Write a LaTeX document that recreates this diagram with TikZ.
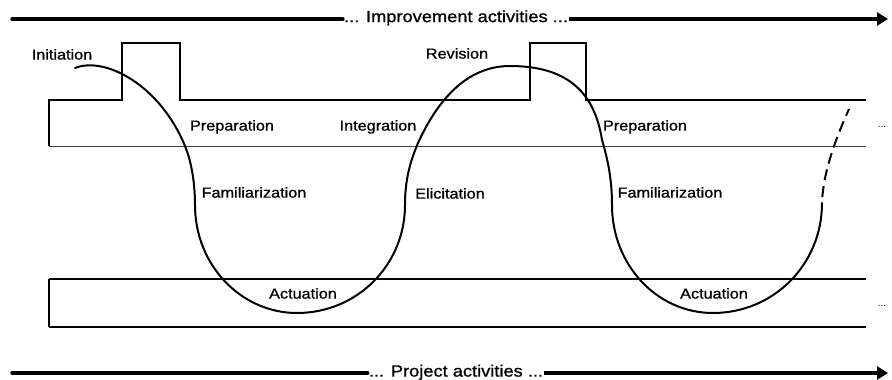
\documentclass[tikz,border=0pt]{standalone}
\usepackage{fontspec}
\setmainfont{Liberation Sans}
\newfontfamily\labfont[FakeStretch=1.12,FakeBold=1]{Liberation Sans}
\usetikzlibrary{arrows.meta}
\tikzset{
  lab/.style={font=\labfont\fontsize{14.5pt}{16pt}\selectfont, inner sep=0pt, text height=0.72em, text depth=0pt},
  big/.style={font=\labfont\fontsize{16.3pt}{18pt}\selectfont, inner sep=1pt, text height=0.72em, text depth=0pt},
  dots/.style={font=\fontsize{10pt}{12pt}\selectfont, inner sep=0pt},
  arr/.style={line width=3.5pt, line cap=round},
  arrtip/.style={line width=3.5pt, -{Triangle[length=11pt,width=13pt]}},
  band/.style={line width=1.5pt},
  thinline/.style={line width=1pt, black!75},
  lowband/.style={line width=2.5pt},
  curveline/.style={line width=2pt, line cap=round, line join=round},
  dashline/.style={line width=2pt, dash pattern=on 11pt off 6pt, dash phase=11pt}
}
\begin{document}
\begin{tikzpicture}[x=1pt,y=-1pt]
\useasboundingbox (0,0) rectangle (892,380);
% top arrow
\node[big] (imp) at (456,18.5) {... Improvement activities ...};
\coordinate (ts) at (12,19);
\coordinate (te) at (888,19);
\draw[arr] (ts) -- (ts -| imp.west);
\draw[arrtip] (te -| imp.east) -- (te);
% bottom arrow
\node[big] (proj) at (456,373) {... Project activities ...};
\coordinate (bs) at (12,373);
\coordinate (be) at (888,373);
\draw[arr] (bs) -- (bs -| proj.west);
\draw[arrtip] (be -| proj.east) -- (be);
% upper band
\draw[band, line join=miter] (49,146) -- (49,100) -- (122,100) -- (122,43) -- (180,43) -- (180,100)
   -- (530,100) -- (530,43) -- (586,43) -- (586,100) -- (866,100);
\draw[thinline] (49,146) -- (866,146);
% lower band
\draw[lowband] (866,279) -- (49,279);
\draw[lowband] (49,327) -- (866,327);
\draw[band] (49,279) -- (49,327);
% curve
\coordinate (c0) at (75,68);
\coordinate (d0) at (822,203);
\coordinate (d1) at (849,109);
\draw[curveline] (c0) .. controls (105,56) and (160,85) .. (185,146)
  .. controls (192,163) and (195,185) .. (195,205)
  .. controls (195,265) and (241,313) .. (297,313)
  .. controls (357,313) and (405,265) .. (405,205)
  .. controls (405,180) and (410,162) .. (418,143)
  .. controls (440,95) and (470,66) .. (510,66)
  .. controls (570,66) and (595,95) .. (602,140)
  .. controls (608,160) and (612,180) .. (612,205)
  .. controls (612,265) and (657,313) .. (713,313)
  .. controls (773,313) and (822,265) .. (d0);
\draw[dashline] (d0) .. controls (823,172) and (836,138) .. (d1);
% labels
\node[lab] (ini) at (62,56) {Initiation};
\node[lab] (rev) at (457,55) {Revision};
\node[lab] (prep1) at (232,127) {Preparation};
\node[lab] (integ) at (378,127) {Integration};
\node[lab] (prep2) at (645,127) {Preparation};
\node[lab] (fam1) at (254,194) {Familiarization};
\node[lab] (elic) at (450,195) {Elicitation};
\node[lab] (fam2) at (670,194) {Familiarization};
\node[lab] (act1) at (303,295) {Actuation};
\node[lab] (act2) at (714,295) {Actuation};
\node[dots] (dt1) at (882,127) {...};
\node[dots] (dt2) at (882,306) {...};
\end{tikzpicture}
\end{document}
